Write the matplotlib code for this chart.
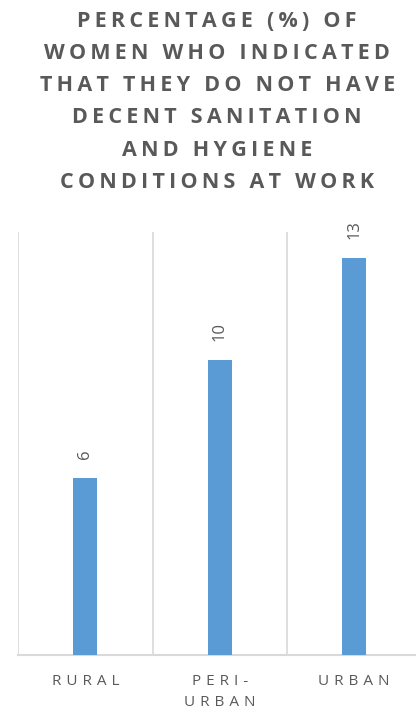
import numpy as np
import matplotlib.pyplot as plt

# data
categories = ['RURAL', 'PERI-\nURBAN', 'URBAN']
values = [6, 10, 13.45]
labels = ['6', '10', '13']

title = ('PERCENTAGE (%) OF\nWOMEN WHO INDICATED\nTHAT THEY DO NOT HAVE\n'
         'DECENT SANITATION\nAND HYGIENE\nCONDITIONS AT WORK')

grey = '#595959'
blue = '#5B9BD5'
fam = ['Open Sans', 'DejaVu Sans']


def spaced(s, sp='\u2009'):
    # fake letter spacing
    return '\n'.join(sp.join(line) for line in s.split('\n'))


fig = plt.figure(figsize=(4.16, 7.17), dpi=100)
ax = fig.add_axes([18 / 416, 62 / 717, 403.5 / 416, 423 / 717])

x = np.arange(len(categories))
ax.bar(x, values, width=0.178, color=blue, zorder=3)

for xi, v, lab in zip(x, values, labels):
    ax.text(xi, v + 0.65, lab, rotation=90, ha='center', va='bottom',
            fontsize=12, color=grey, family=fam)

ax.set_xlim(-0.5, 2.5)
ax.set_ylim(0, 14.34)
for b in [-0.5, 0.5, 1.5, 2.5]:
    ax.axvline(b, color='#d9d9d9', lw=1.2, zorder=1)

for s in ['top', 'right', 'left']:
    ax.spines[s].set_visible(False)
ax.spines['bottom'].set_color('#d9d9d9')
ax.spines['bottom'].set_linewidth(1.5)
ax.set_yticks([])
ax.set_xticks(x)
ax.set_xticklabels([spaced(c, '\u2009\u2009') for c in categories], fontsize=11,
                   color=grey, family=fam, linespacing=1.55)
ax.tick_params(axis='x', length=0, pad=14)

fig.text(0.522, 0.985, spaced(title), ha='center', va='top', fontsize=15.5,
         fontweight='bold', color=grey, family=fam, linespacing=1.7)

fig.savefig('out.png', dpi=100)
